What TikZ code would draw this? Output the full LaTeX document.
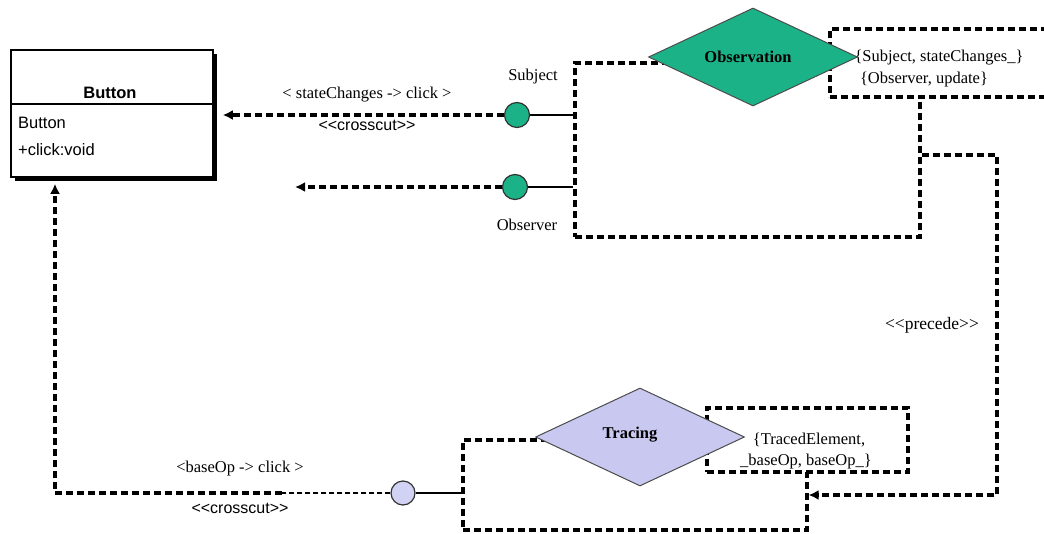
\documentclass[tikz,border=0pt]{standalone}
\usepackage{fontspec}
\setmainfont{Liberation Serif}
\setsansfont{Liberation Sans}
\usetikzlibrary{shapes.geometric,arrows.meta,shadows}
\definecolor{obsgreen}{RGB}{28,178,136}
\definecolor{trclav}{RGB}{200,200,240}
\definecolor{trccirc}{RGB}{210,210,244}
\tikzset{
  lbl/.style={font=\fontsize{16.5}{18}\selectfont, inner sep=0pt},
  sflbl/.style={font=\sffamily\fontsize{16}{18}\selectfont, inner sep=0pt},
  bigdash/.style={line width=3.2pt, dash pattern=on 7pt off 4pt},
  thindash/.style={line width=1.2pt, dash pattern=on 5pt off 3pt},
  arr/.style={-{Latex[length=10pt,width=10pt]}},
  dbox/.style={draw, bigdash, fill=white, inner sep=0pt},
  aspnode/.style={diamond, draw=black!70, line width=1pt, inner sep=0pt, minimum width=209pt, minimum height=98pt},
  port/.style={circle, draw=black!80, line width=1.2pt, minimum size=25pt, inner sep=0pt},
  wire/.style={line width=1.6pt}
}
\begin{document}
\begin{tikzpicture}[x=1pt,y=-1pt]
\clip (0,0) rectangle (1044,533);
\fill[white] (0,0) rectangle (1044,533);

% class box
\node[draw, line width=1.6pt, fill=white, minimum width=202pt, minimum height=127pt,
      drop shadow={shadow xshift=4pt,shadow yshift=-4pt,fill=black,opacity=1}] (button) at (112,113.5) {};
\coordinate (div) at (0,104);
\draw[line width=1.3pt] (button.west |- div) -- (button.east |- div);
\node[sflbl, font=\sffamily\bfseries\fontsize{16.5}{18}\selectfont] (btitle) at (110,93) {Button};
\node[sflbl, font=\sffamily\fontsize{16.5}{18}\selectfont, anchor=west] (battr) at (18,123) {Button};
\node[sflbl, font=\sffamily\fontsize{16.5}{18}\selectfont, anchor=west] (bop) at (18,150) {+click:void};

% Observation aspect
\node[dbox, minimum width=345pt, minimum height=174pt] (obsbox) at (747.5,150) {};
\node[dbox, minimum width=240pt, minimum height=68pt] (obsnote) at (950,63) {};
\node[lbl] (obsn1) at (939,58) {\{Subject, stateChanges\_\}};
\node[lbl] (obsn2) at (924,80) {\{Observer, update\}};
\node[aspnode, fill=obsgreen] (obs) at (753,57) {};
\node[lbl, font=\bfseries\fontsize{16.5}{18}\selectfont] (obst) at (748,57) {Observation};

% Tracing aspect
\node[dbox, minimum width=344pt, minimum height=90pt] (trcbox) at (635,485) {};
\node[dbox, minimum width=201pt, minimum height=64pt] (trcnote) at (807.5,440) {};
\node[lbl] (trcn1) at (809,440) {\{TracedElement,};
\node[lbl] (trcn2) at (806,462) {\_baseOp, baseOp\_\}};
\node[aspnode, fill=trclav] (trc) at (640,437) {};
\node[lbl, font=\bfseries\fontsize{16.5}{18}\selectfont] (trct) at (630,435) {Tracing};

% ports
\node[port, fill=obsgreen] (subj) at (517,115) {};
\node[port, fill=obsgreen] (obsv) at (515,187) {};
\node[port, fill=trccirc, minimum size=24pt] (tport) at (403,493) {};
\node[lbl] (subjl) at (533,77) {Subject};
\node[lbl] (obsvl) at (527,225) {Observer};

% port wires
\draw[wire] (subj) -- (subj -| obsbox.west);
\draw[wire] (obsv) -- (obsv -| obsbox.west);
\draw[wire] (tport) -- (tport -| trcbox.west);

% crosscut connectors
\draw[bigdash, arr, shorten >=9pt] (subj) -- (subj -| button.east);
\node[lbl] (cc1a) at (367,95) {< stateChanges -> click >};
\node[sflbl] (cc1b) at (367,125) {<{}<crosscut>{}>};

\coordinate (obsend) at (295,187);
\draw[bigdash, arr] (obsv) -- (obsend);

\coordinate (tmid) at (282,493);
\coordinate (tcorner) at (55,493);
\draw[thindash] (tport) -- (tmid);
\draw[bigdash, arr, shorten >=6pt] (tmid) -- (tcorner) -- (tcorner |- button.south);
\node[lbl] (cc2a) at (240,469) {<baseOp -> click >};
\node[sflbl] (cc2b) at (240,508) {<{}<crosscut>{}>};

% precedence
\coordinate (p1) at (997,155);
\coordinate (p2) at (997,495);
\draw[bigdash, arr] (obsbox.east |- p1) -- (p1) -- (p2) -- (p2 -| trcbox.east);
\node[lbl, font=\fontsize{17.5}{19}\selectfont] (prec) at (932,325) {<{}<precede>{}>};
\end{tikzpicture}
\end{document}
